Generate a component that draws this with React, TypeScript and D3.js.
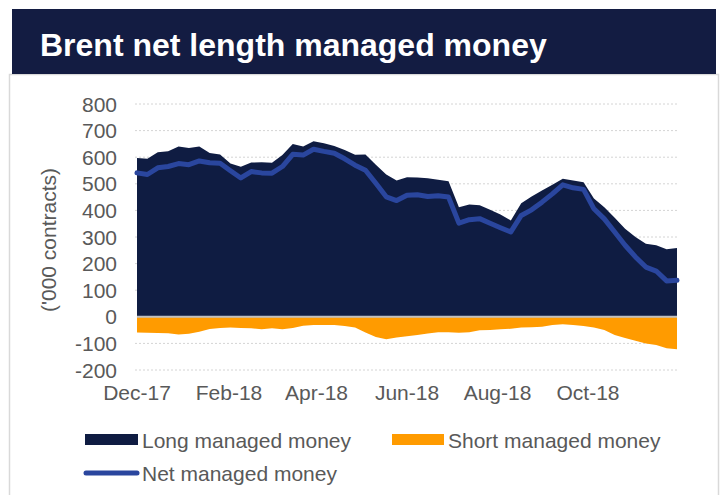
import React from "react";
import * as d3 from "d3";

const startDate = new Date(2017, 11, 5);
const weekCount = 53;

const longValues = [
  597, 594, 619, 622, 640, 635, 640, 616, 610, 576, 564, 580, 581, 579, 608, 650, 640, 660,
  652, 642, 627, 609, 610, 572, 535, 512, 525, 524, 521, 515, 510, 412, 422, 419, 402, 385,
  362, 427, 452, 475, 496, 519, 512, 506, 445, 412, 372, 331, 300, 275, 269, 254, 259,
];
const shortValues = [
  -59, -60, -61, -62, -67, -64, -56, -46, -42, -40, -42, -43, -47, -43, -47, -42, -34, -31,
  -31, -31, -35, -40, -59, -76, -84, -78, -73, -68, -63, -58, -58, -60, -58, -51, -50, -47,
  -45, -40, -39, -37, -31, -28, -31, -35, -40, -50, -68, -80, -90, -100, -106, -118, -122,
];
const netValues = [
  541, 535, 560, 565, 576, 572, 586, 579, 577, 549, 522, 546, 541, 540, 565, 611, 608, 630,
  622, 615, 594, 570, 551, 502, 451, 437, 457, 459, 452, 455, 450, 352, 365, 369, 352, 335,
  319, 381, 402, 431, 462, 496, 485, 479, 406, 368, 319, 269, 225, 187, 172, 135, 137,
];
const yTicks = [800, 700, 600, 500, 400, 300, 200, 100, 0, -100, -200];
const xTickDates = [
  new Date(2017, 11, 5),
  new Date(2018, 1, 5),
  new Date(2018, 3, 5),
  new Date(2018, 5, 5),
  new Date(2018, 7, 5),
  new Date(2018, 9, 5),
];
const seriesNames = ["Long managed money", "Short managed money", "Net managed money"];
const title = "Brent net length managed money";
const yAxisTitle = "('000 contracts)";

const dates = d3.range(weekCount).map((i) => d3.timeDay.offset(startDate, 7 * i));

const COLORS = {
  banner: "#131c42",
  long: "#0f1c42",
  short: "#ff9b00",
  net: "#2a469e",
  grid: "#d4d4d4",
  zero: "#bfbfbf",
  text: "#595959",
};

const FONT = "'Liberation Sans', Arial, sans-serif";

export default function App() {
  const x = d3.scaleTime().domain([dates[0], dates[dates.length - 1]]).range([137, 677]);
  const y = d3.scaleLinear().domain([-200, 800]).range([370, 104]);
  const fmt = d3.timeFormat("%b-%y");

  const longArea = d3
    .area<number>()
    .x((_, i) => x(dates[i]))
    .y0(y(0))
    .y1((d) => y(d))(longValues) as string;
  const shortArea = d3
    .area<number>()
    .x((_, i) => x(dates[i]))
    .y0(y(0))
    .y1((d) => y(d))(shortValues) as string;
  const netLine = d3
    .line<number>()
    .x((_, i) => x(dates[i]))
    .y((d) => y(d))(netValues) as string;

  return (
    <svg
      width={725}
      height={495}
      style={{ position: "absolute", left: 0, top: 0, background: "#fff" }}
      fontFamily={FONT}
    >
      <rect x={9.5} y={74.5} width={709} height={430} fill="#fff" stroke="#d9d9d9" strokeWidth={1.5} />
      <rect x={12} y={9} width={704} height={65} fill={COLORS.banner} />
      <text x={40} y={56} fill="#fff" fontSize={32} fontWeight="bold">
        {title}
      </text>

      {yTicks.map((t) => (
        <g key={t}>
          {t !== 0 && (
            <line
              x1={135}
              x2={678}
              y1={y(t)}
              y2={y(t)}
              stroke={COLORS.grid}
              strokeWidth={1}
              strokeDasharray="2,2"
            />
          )}
          <text x={117} y={y(t)} dy="0.36em" textAnchor="end" fontSize={21} fill={COLORS.text}>
            {t}
          </text>
        </g>
      ))}

      <path d={longArea} fill={COLORS.long} />
      <path d={shortArea} fill={COLORS.short} />
      <line x1={x(dates[0])} x2={x(dates[dates.length - 1])} y1={y(0)} y2={y(0)} stroke={COLORS.zero} strokeWidth={2} />
      <path d={netLine} fill="none" stroke={COLORS.net} strokeWidth={5} strokeLinejoin="round" strokeLinecap="round" />

      {xTickDates.map((d) => (
        <text key={+d} x={x(d)} y={400} textAnchor="middle" fontSize={21} fill={COLORS.text}>
          {fmt(d)}
        </text>
      ))}

      <text
        transform={`translate(56,240) rotate(-90)`}
        textAnchor="middle"
        fontSize={21}
        fill={COLORS.text}
      >
        {yAxisTitle}
      </text>

      <rect x={85} y={434} width={53} height={11} fill={COLORS.long} />
      <text x={142} y={448} fontSize={21} fill={COLORS.text}>
        {seriesNames[0]}
      </text>
      <rect x={392} y={434} width={52} height={11} fill={COLORS.short} />
      <text x={448} y={448} fontSize={21} fill={COLORS.text}>
        {seriesNames[1]}
      </text>
      <line x1={86} x2={137} y1={473} y2={473} stroke={COLORS.net} strokeWidth={5} strokeLinecap="round" />
      <text x={142} y={481} fontSize={21} fill={COLORS.text}>
        {seriesNames[2]}
      </text>
    </svg>
  );
}
